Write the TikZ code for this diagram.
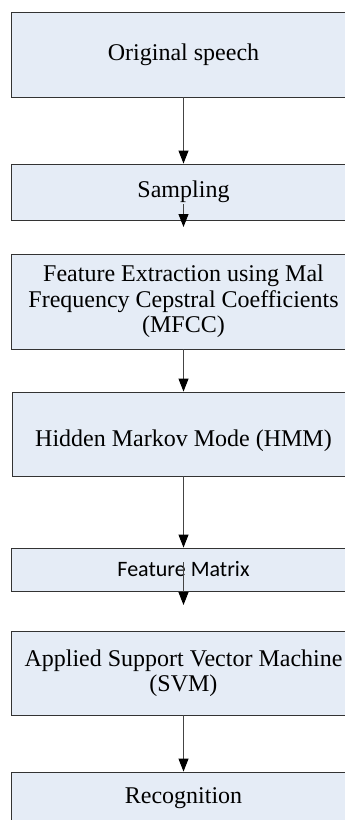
\documentclass[tikz,border=0pt]{standalone}
\usepackage{fontspec}
\setmainfont{Liberation Serif}
\newfontfamily\calfont{Carlito}
\usetikzlibrary{arrows.meta}
\definecolor{boxfill}{HTML}{E5ECF6}
\definecolor{boxline}{HTML}{333333}
\definecolor{arrline}{HTML}{444444}
\tikzset{
  flowbox/.style={draw=boxline, line width=0.9pt, fill=boxfill, rectangle,
    minimum width=345pt, inner sep=0pt, align=center,
    font=\fontsize{24}{25.5}\selectfont},
  flowarrow/.style={draw=arrline, line width=0.9pt,
    -{Triangle[width=10pt,length=13pt,fill=black,color=black]}}
}
\begin{document}
\begin{tikzpicture}[x=1pt,y=-1pt]
\useasboundingbox (0,0) rectangle (345,820);
\clip (0,0) rectangle (345,820);
\node[flowbox, minimum height=85pt] (b1) at (183.5,54.5) {Original speech};
\node[flowbox, minimum height=56pt] (b2) at (183.5,192) {Sampling};
\node[flowbox, minimum height=95pt] (b3) at (183.5,301.5) {Feature Extraction using Mal\\Frequency Cepstral Coefficients\\(MFCC)};
\node[flowbox, minimum height=84pt] (b4) at (185,434) {};
\node (b4t) at (183.5,441) {\fontsize{24}{25.5}\selectfont Hidden Markov Mode (HMM)};
\node[flowbox, minimum height=43pt, font=\calfont\fontsize{22}{24}\selectfont] (b5) at (183.5,569.5) {Feature Matrix};
\node[flowbox, minimum height=84pt] (b6) at (183.5,673) {Applied Support Vector Machine\\(SVM)};
\node[flowbox, minimum height=52pt] (b7) at (183.5,798) {Recognition};
\coordinate (s2a) at (183.5,204);
\coordinate (s2b) at (183.5,227);
\coordinate (s5a) at (183.5,562);
\coordinate (s5b) at (183.5,605);
\draw[flowarrow] (b1.south) -- (b2.north);
\draw[flowarrow] (s2a) -- (s2b);
\draw[flowarrow] (b3.south) -- (b3.south |- b4.north);
\draw[flowarrow] (b4.south -| b3.south) -- (b5.north);
\draw[flowarrow] (s5a) -- (s5b);
\draw[flowarrow] (b6.south) -- (b7.north);
\end{tikzpicture}
\end{document}
